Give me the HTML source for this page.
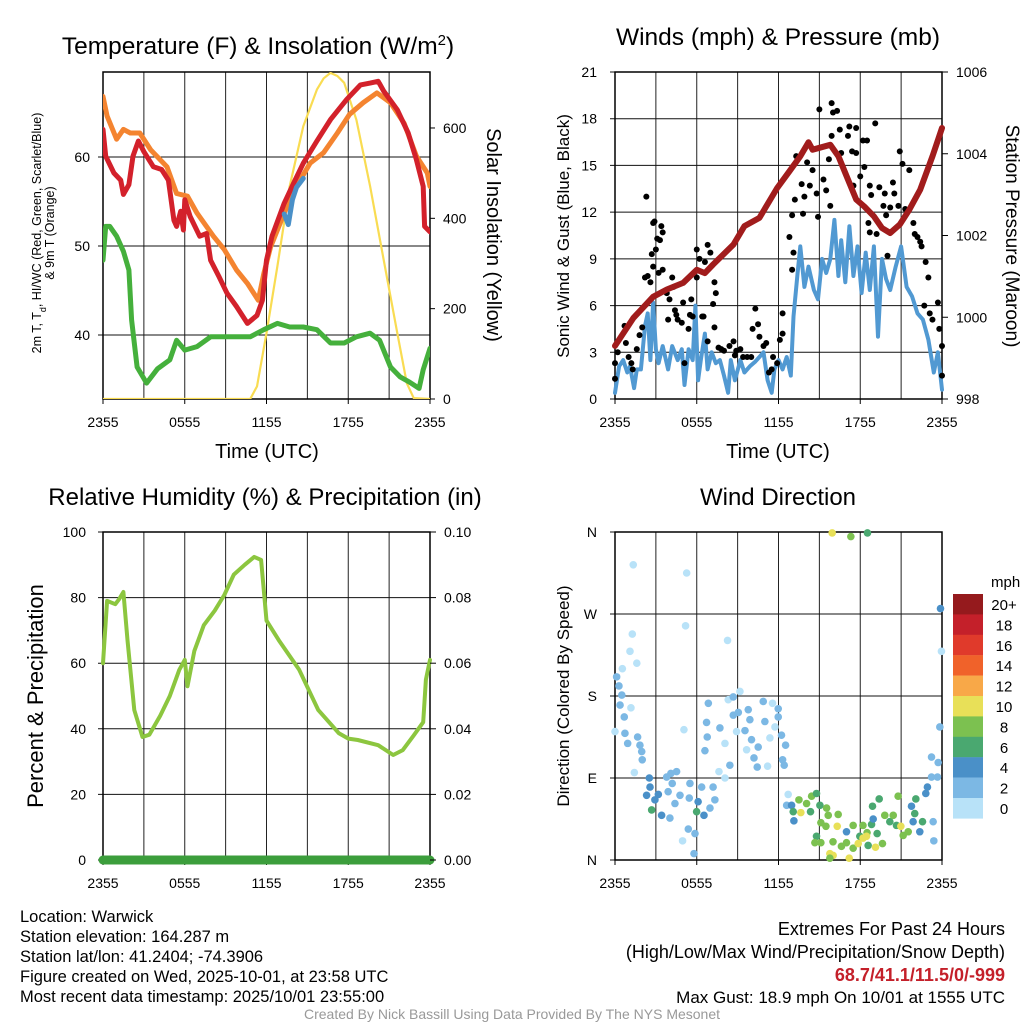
<!DOCTYPE html>
<html><head><meta charset="utf-8"><style>
html,body{margin:0;padding:0;background:#fff;}
svg{display:block;font-family:"Liberation Sans",Arial,sans-serif;}
</style></head><body>
<svg id="fig" width="1024" height="1024" viewBox="0 0 1024 1024"></svg>
<script>
// ---------------- DATA ----------------
const xTickLabels = ["2355","0555","1155","1755","2355"];
// Temperature panel (hours since 2355, deg F)
const tempHours = [0,0.2,0.8,1.3,1.5,1.9,2.2,2.6,3.0,3.7,4.3,4.8,5.2,5.4,5.7,5.9,6.0,6.4,7.1,7.6,7.9,8.5,9.1,9.8,10.6,11.3,11.7,12.0,12.4,13.3,14.0,14.7,15.7,16.7,17.9,18.9,19.6,20.2,20.6,21.6,22.4,23.0,23.5,23.6,24.0];
const tempValues = [63.1,60.1,58.2,57.4,55.8,56.9,60.1,61.8,60.6,58.9,58.6,57.4,52.9,52.2,53.9,51.8,55.2,53.3,51.1,51.4,48.4,46.6,44.7,43.2,41.3,42.2,43.9,48.4,51.1,54.8,57.1,59.3,61.8,64.2,66.5,68.1,68.3,68.5,67.4,65.3,62.7,59.7,56.7,52.2,51.6];
const temp9Hours = [0,0.3,1.0,1.5,2.0,2.7,3.5,4.7,5.4,6.2,6.9,8.1,8.9,9.8,10.6,11.4,11.8,12.3,13.3,14.2,15.2,16.2,17.2,18.1,19.1,20.1,21.1,22.1,23.0,23.8,24.0];
const temp9Values = [66.8,64.6,62.0,63.1,62.7,62.7,60.8,58.9,55.9,55.6,53.7,51.1,49.6,47.3,45.8,43.9,46.9,49.9,53.7,56.7,59.3,60.5,62.7,64.8,66.1,67.2,66.1,63.8,60.1,58.2,56.7];
const dewHours = [0,0.2,0.5,1.0,1.5,1.9,2.1,2.5,3.2,4.0,4.9,5.4,6.0,6.9,7.9,8.9,9.8,10.8,11.8,12.8,13.7,14.7,15.7,16.7,17.7,18.6,19.6,20.3,21.1,21.8,22.5,23.2,23.5,24.0];
const dewValues = [48.4,52.2,52.2,51.1,49.4,47.3,41.7,36.4,34.6,36.2,37.2,39.4,38.3,38.7,39.8,39.8,39.8,39.8,40.6,41.3,40.9,40.9,40.6,39.1,39.1,39.8,40.2,39.4,36.4,35.3,34.7,34.0,36.1,38.5];
const hiHours = [13.3,13.6,13.9,14.2,14.7];
const hiValues = [53.6,52.4,55.2,56.6,57.6];
const solarHours = [0,10.8,11.3,12.0,12.8,13.7,14.7,15.7,16.2,16.7,17.2,17.7,18.6,19.6,20.6,21.6,22.3,22.8,24];
const solarValues = [0,0,28,146,294,471,604,685,710,722,715,700,618,471,308,146,35,2,0];
const tempTicks = [40,50,60];
const solarTicks = [0,200,400,600];

// Wind panel
const windHours = [0,0.3,0.6,0.9,1.1,1.4,1.6,1.9,2.2,2.4,2.6,2.8,3.0,3.2,3.5,3.9,4.2,4.6,4.9,5.1,5.4,5.7,5.9,6.1,6.3,6.6,6.8,7.1,7.4,7.7,8.0,8.3,8.5,8.8,9.2,9.5,9.9,10.3,10.6,10.9,11.2,11.5,11.7,12.0,12.3,12.6,12.9,13.1,13.4,13.6,13.9,14.2,14.6,14.9,15.2,15.5,15.8,16.1,16.4,16.6,16.9,17.2,17.5,17.8,18.1,18.4,18.7,19.0,19.3,19.6,19.9,20.2,20.6,21.0,21.4,21.8,22.2,22.6,23.0,23.4,23.7,24.0];
const windValues = [0.4,2.1,2.5,1.7,2.1,0.7,1.9,1.9,4.7,5.5,2.5,6.2,3.2,2.3,3.4,1.9,3.4,2.5,3.2,0.9,3.2,2.5,6.0,1.2,2.5,4.2,1.9,3.0,2.3,2.5,1.5,0.4,2.5,1.2,2.5,1.7,2.1,2.4,2.7,3.0,1.2,0.4,1.9,2.5,1.9,2.7,1.5,5.3,8.1,9.8,7.2,8.5,7.0,6.4,9.0,8.1,9.0,11.5,7.9,10.2,7.5,11.1,7.9,9.8,6.8,9.4,7.0,9.8,4.0,9.0,7.7,7.0,8.5,9.8,7.2,6.6,5.5,5.1,3.8,1.7,3.0,0.6];
const gustHours = [0.0,0.0,0.2,0.7,0.8,1.0,1.2,1.3,1.6,1.8,2.0,2.3,2.2,2.4,2.6,2.7,2.8,2.9,3.0,3.1,3.3,3.4,3.5,3.5,3.2,2.8,3.8,3.9,4.0,4.2,4.3,4.4,4.5,4.6,4.9,5.0,5.1,5.4,5.5,5.6,5.7,6.0,6.0,6.2,6.4,6.5,6.6,6.8,6.8,7.0,7.3,7.4,7.3,7.2,7.6,7.8,8.0,8.4,8.7,8.8,8.9,9.2,9.4,9.7,10.0,10.1,10.3,10.5,10.6,10.9,11.1,11.3,11.5,11.6,11.9,12.1,12.3,12.3,12.8,13.0,13.1,13.2,13.0,13.3,13.7,13.8,13.9,14.1,14.3,14.5,14.8,14.9,15.0,15.3,15.5,15.8,15.7,15.9,16.0,15.9,16.3,16.5,16.6,17.1,17.2,17.4,17.7,17.5,17.7,18.0,18.2,18.3,18.5,18.7,18.8,18.6,18.7,19.1,19.2,19.4,19.7,19.8,19.9,20.0,20.2,20.4,20.5,20.8,20.9,21.1,21.3,21.6,21.9,22.0,22.2,22.4,22.5,22.8,23.0,22.7,23.1,23.3,23.7,23.8,24.0,24.0];
const gustValues = [1.3,2.3,3.0,4.7,3.6,2.7,2.3,1.9,3.2,4.1,4.6,13.0,7.8,7.9,7.5,9.3,11.3,11.4,9.6,10.3,10.2,11.1,10.7,8.3,8.1,8.5,6.8,5.1,6.4,7.8,7.2,5.7,5.4,5.1,4.9,6.2,2.3,4.5,5.4,6.4,5.3,7.8,9.6,9.0,5.3,5.3,8.8,3.7,9.9,9.4,7.5,6.8,4.6,6.1,3.3,3.2,3.1,3.4,3.7,2.8,3.1,3.2,2.7,2.7,2.7,4.5,5.8,4.8,4.0,3.4,3.6,1.7,1.9,2.7,2.3,3.8,5.5,4.2,10.4,8.3,9.4,12.8,11.8,15.6,13.8,11.9,13.0,15.2,13.7,14.7,13.2,11.7,18.6,14.1,13.4,12.4,15.4,16.9,18.4,19.0,18.5,17.3,15.8,16.9,17.5,15.9,17.4,13.7,15.8,14.3,16.6,14.9,16.6,13.7,13.1,11.3,10.7,17.7,10.6,13.6,12.4,13.2,11.8,9.2,12.3,13.9,13.2,12.4,15.9,15.1,12.2,14.7,11.3,10.6,10.4,10.1,9.8,8.8,7.8,6.0,5.5,5.1,6.2,4.5,3.4,1.5];
const presHours = [0,1.34,2.8,3.8,5.0,6.0,6.6,7.2,8.7,9.5,10.6,11.9,12.8,13.6,14.2,14.5,15.8,16.4,17.0,17.7,18.3,19.0,19.6,20.2,20.9,21.6,22.4,23.3,24.0];
const presValues = [999.3,999.98,1000.5,1000.68,1000.84,1001.16,1001.08,1001.29,1001.78,1002.23,1002.43,1003.16,1003.57,1003.94,1004.28,1004.1,1004.22,1003.94,1003.45,1002.88,1002.71,1002.47,1002.18,1002.06,1002.27,1002.63,1003.12,1003.94,1004.63];
const windTicks = [0,3,6,9,12,15,18,21];
const presTicks = [998,1000,1002,1004,1006];

// RH panel
const rhHours = [0,0.3,0.9,1.2,1.5,1.8,2.3,2.9,3.4,4.2,4.9,5.6,6.0,6.2,6.7,7.4,8.2,8.9,9.6,10.4,11.1,11.6,12.0,12.9,14.4,15.8,17.3,18.0,18.7,20.2,21.3,22.0,22.8,23.5,23.7,24.0];
const rhValues = [60,79,78,79.6,81.7,67,45.7,37.5,38.2,44,50,58,61,53,63.7,71.6,76,80.8,87,90,92.4,91.5,73,67,58,45.7,38.7,37,36.6,35,32,33.5,38,42,55,61];
const precipHours = [0,24];
const precipValues = [0,0];
const rhTicks = [0,20,40,60,80,100];
const precipTicks = ["0.00","0.02","0.04","0.06","0.08","0.10"];

// Wind direction panel
const dirHours = [1.34,5.26,5.18,1.27,1.1,1.6,0.54,0.12,0.29,0.5,0.37,1.17,0.68,0,0.73,1.66,0.93,1.83,1.96,2.0,1.42,2.52,2.57,2.32,3.18,2.69,2.93,3.42,3.79,4.1,4.52,4.2,3.9,4.4,4.03,4.77,5.5,5.45,6.1,5.99,6.53,5.38,5.87,4.96,5.8,6.36,7.2,7.33,6.97,6.6,6.77,6.72,6.85,5.06,8.07,7.7,7.63,8.07,8.43,8.31,8.26,8.68,9.17,8.68,9.05,8.92,9.54,10.02,9.66,10.2,10.44,9.78,9.9,10.51,10.88,11.0,11.56,11.98,11.98,11.74,12.22,11.37,12.52,12.3,12.42,11.2,12.71,12.6,12.96,13.08,13.13,13.5,13.64,14.06,14.43,14.79,15.04,14.35,15.53,15.65,16.38,15.11,15.48,16.31,16.99,17.48,18.2,18.83,18.5,17.97,18.46,18.2,14.79,14.67,15.11,16.0,16.62,16.99,17.48,17.85,15.77,16.01,15.77,17.19,18.58,19.12,19.63,19.24,18.95,18.9,19.39,19.8,20.17,20.42,20.78,20.66,20.98,21.15,21.52,21.76,22.08,22.0,21.88,22.37,22.57,22.93,22.81,23.23,23.35,23.4,23.67,23.23,23.72,23.84,23.96,23.89,15.94,17.31,18.53];
const dirDegrees = [324,315,257,248,229,216,210,201,191,181,170,167,157,141,139,135,128,126,119,110,96,90,80,71,72,55,66,49,91,95,97,84,75,62,46,71,84,68,64,53,49,34,29,21,7,80,80,66,57,120,135,151,172,143,128,145,97,90,104,176,241,179,185,159,162,141,142,132,121,112,102,165,154,124,174,152,172,166,157,146,137,134,126,110,104,103,72,60,60,53,43,66,52,62,70,73,60,53,57,49,50,41,37,37,31,38,38,39,30,26,26,24,26,19,19,20,15,19,13,18,7,5,2,2,16,14,18,29,45,59,67,49,42,49,70,38,37,27,31,59,67,51,42,31,42,80,73,91,42,21,91,113,107,146,229,276,359,355,359];
const dirSpeeds = [1,1,1,1,1,1,1,3,3,3,3,1,3,1,3,3,3,3,3,3,1,5,5,5,5,7,5,5,3,3,3,3,3,3,3,3,3,3,5,7,5,3,3,1,3,3,3,3,3,3,3,3,3,1,1,3,1,1,3,1,1,3,1,3,3,1,3,3,1,3,3,3,3,3,3,3,1,3,3,1,3,1,3,3,3,1,1,3,5,7,5,9,11,9,9,7,7,7,9,9,9,9,9,11,5,9,9,7,9,7,11,11,7,9,9,9,9,9,9,11,11,11,9,11,7,11,9,7,5,7,7,9,7,9,9,7,11,9,9,5,7,7,5,5,7,5,5,3,3,3,3,3,3,3,1,5,11,9,7];
const dirTickLabels = ["N","E","S","W","N"];
const speedBinLabels = ["20+","18","16","14","12","10","8","6","4","2","0"];
const speedBinColors = ["#951a1d","#c4202a","#e03a2b","#f0622a","#f8a848","#e8e058","#7cc150","#4aa870","#4a90c8","#7cb8e4","#b8e2f8"];

// ---------------- DRAW ----------------
const NS="http://www.w3.org/2000/svg";
const svg=document.getElementById('fig');
function mk(tag,attrs,parent){const e=document.createElementNS(NS,tag);for(const k in attrs)e.setAttribute(k,attrs[k]);(parent||svg).appendChild(e);return e;}
function txt(str,x,y,size,anchor,parent,extra){const t=mk('text',Object.assign({x:x,y:y,'font-size':size,'text-anchor':anchor||'middle',fill:'#000'},extra||{}),parent);t.textContent=str;return t;}
function grp(name){const g=mk('g',{});return g;}

function frame(g,L,T,R,B,hTicksY){
  for(let h=3;h<24;h+=3){const x=L+h/24*(R-L);mk('line',{x1:x,y1:T,x2:x,y2:B,stroke:'#222','stroke-width':1},g);}
  hTicksY.forEach(y=>{mk('line',{x1:L-5,y1:y,x2:R,y2:y,stroke:'#111','stroke-width':1},g);});
  for(let h=0;h<=24;h+=6){const x=L+h/24*(R-L);mk('line',{x1:x,y1:B,x2:x,y2:B+5,stroke:'#000','stroke-width':1},g);}
  const r=mk('rect',{x:L,y:T,width:R-L,height:B-T,fill:'none',stroke:'#000','stroke-width':1.5},g);
  
  const xl=grp('x-tick-labels');g.appendChild(xl);
  xTickLabels.forEach((s,i)=>{txt(s,L+i*6/24*(R-L),B+28,14,'middle',xl);});
}
function poly(g,hours,vals,xf,yf,color,w,name){
  const pts=hours.map((h,i)=>xf(h).toFixed(1)+','+yf(vals[i]).toFixed(1)).join(' ');
  const p=mk('polyline',{points:pts,fill:'none',stroke:color,'stroke-width':w,'stroke-linejoin':'round','stroke-linecap':'round'},g);
  return p;
}

// ===== Panel 1 =====
(function(){
  const L=103,T=72,R=430,B=399;
  const g=grp('temperature-panel');
  const xf=h=>L+h/24*(R-L);
  const yT=v=>157+(60-v)*8.9;
  const yS=v=>B-v*0.4517;
  frame(g,L,T,R,B,tempTicks.map(yT));
  const cp=mk('clipPath',{id:'c1'},g);mk('rect',{x:L,y:T,width:R-L,height:B-T},cp);
  const cg=mk('g',{'clip-path':'url(#c1)'},g);
  poly(cg,solarHours,solarValues,xf,yS,'#f9dc52',2.2,'solar-insolation-line');
  poly(cg,dewHours,dewValues,xf,yT,'#45b03c',5,'dewpoint-line');
  poly(cg,temp9Hours,temp9Values,xf,yT,'#f48430',5,'temp-9m-line');
  poly(cg,tempHours,tempValues,xf,yT,'#d3212b',5,'temp-2m-line');
  poly(cg,hiHours,hiValues,xf,yT,'#4a90c8',5,'heat-index-line');
  const yl=grp('y-tick-labels-left');g.appendChild(yl);
  tempTicks.forEach(v=>txt(String(v),90,yT(v)+5,14,'end',yl));
  const yr=grp('y-tick-labels-right');g.appendChild(yr);
  solarTicks.forEach(v=>{txt(String(v),443,yS(v)+5,14,'start',yr);mk('line',{x1:R,y1:yS(v),x2:R+5,y2:yS(v),stroke:'#000'},g);});
  const t=txt('Temperature (F) & Insolation (W/m',258,54,24.5,'middle',g);
  const sup=mk('tspan',{dy:-9,'font-size':15},t);sup.textContent='2';
  const cl=mk('tspan',{dy:9,'font-size':24.5},t);cl.textContent=')';
  
  txt('Time (UTC)',267,458,20,'middle',g);
  const y1=txt('',41,233,12.5,'middle',g,{transform:'rotate(-90 41 233)'});
  y1.innerHTML='2m T, T<tspan baseline-shift="sub" font-size="9">d</tspan>, HI/WC (Red, Green, Scarlet/Blue)';
  
  txt('& 9m T (Orange)',54,233,12.5,'middle',g,{transform:'rotate(-90 54 233)'});
  txt('Solar Insolation (Yellow)',487,235,20,'middle',g,{transform:'rotate(90 487 235)'});
})();

// ===== Panel 2 =====
(function(){
  const L=615,T=72,R=942,B=399;
  const g=grp('wind-pressure-panel');
  const xf=h=>L+h/24*(R-L);
  const yW=v=>B-v*(B-T)/21;
  const yP=v=>B-(v-998)*(B-T)/8;
  frame(g,L,T,R,B,windTicks.map(yW));
  const cp=mk('clipPath',{id:'c2'},g);mk('rect',{x:L-4,y:T,width:R-L+8,height:B-T},cp);
  const cg=mk('g',{'clip-path':'url(#c2)'},g);
  poly(cg,windHours,windValues,xf,yW,'#5199d2',4,'sonic-wind-line');
  const gg=grp('gust-points');cg.appendChild(gg);
  gustHours.forEach((h,i)=>{const c=mk('circle',{cx:xf(h),cy:yW(gustValues[i]),r:3,fill:'#000'},gg);
    
    });
  poly(cg,presHours,presValues,xf,yP,'#a11c1c',6,'pressure-line');
  const yl=grp('y-tick-labels-left');g.appendChild(yl);
  windTicks.forEach(v=>txt(String(v),597,yW(v)+5,14,'end',yl));
  const yr=grp('y-tick-labels-right');g.appendChild(yr);
  presTicks.forEach(v=>{txt(String(v),956,yP(v)+5,14,'start',yr);mk('line',{x1:R,y1:yP(v),x2:R+6,y2:yP(v),stroke:'#000'},g);});
  txt('Winds (mph) & Pressure (mb)',778,45,24.5,'middle',g);
  txt('Time (UTC)',778,458,20,'middle',g);
  txt('Sonic Wind & Gust (Blue, Black)',569,236,17,'middle',g,{transform:'rotate(-90 569 236)'});
  txt('Station Pressure (Maroon)',1006,236,19,'middle',g,{transform:'rotate(90 1006 236)'});
})();

// ===== Panel 3 =====
(function(){
  const L=103,T=532,R=430,B=860;
  const g=grp('humidity-panel');
  const xf=h=>L+h/24*(R-L);
  const yR=v=>B-v*(B-T)/100;
  frame(g,L,T,R,B,rhTicks.map(yR));
  poly(g,precipHours,precipValues,xf,v=>B-v*(B-T)/0.1,'#3c9e3c',9,'precipitation-line');
  poly(g,rhHours,rhValues,xf,yR,'#8cc63f',4,'relative-humidity-line');
  const yl=grp('y-tick-labels-left');g.appendChild(yl);
  rhTicks.forEach(v=>txt(String(v),86,yR(v)+5,14,'end',yl));
  const yr=grp('y-tick-labels-right');g.appendChild(yr);
  precipTicks.forEach((s,i)=>{const y=yR(i*20);txt(s,444,y+5,14,'start',yr);mk('line',{x1:R,y1:y,x2:R+6,y2:y,stroke:'#000'},g);});
  txt('Relative Humidity (%) & Precipitation (in)',265,505,24,'middle',g);
  txt('Percent & Precipitation',43,696,22,'middle',g,{transform:'rotate(-90 43 696)'});
})();

// ===== Panel 4 =====
(function(){
  const L=615,T=532,R=942,B=860;
  const g=grp('wind-direction-panel');
  const xf=h=>L+h/24*(R-L);
  const yD=v=>B-v*(B-T)/360;
  frame(g,L,T,R,B,[0,90,180,270,360].map(yD));
  const pg=grp('direction-points');g.appendChild(pg);
  dirHours.forEach((h,i)=>{
    const s=dirSpeeds[i];const bin=Math.min(10,Math.floor(s/2));
    const c=mk('circle',{cx:xf(h),cy:yD(dirDegrees[i]),r:3.8,fill:speedBinColors[10-bin]},pg);
    
    
  });
  const yl=grp('y-tick-labels-left');g.appendChild(yl);
  dirTickLabels.forEach((s,i)=>txt(s,597,yD(i*90)+5,14,'end',yl));
  txt('Wind Direction',778,505,24,'middle',g);
  txt('Direction (Colored By Speed)',569,696,17,'middle',g,{transform:'rotate(-90 569 696)'});
  const cb=grp('speed-colorbar');g.appendChild(cb);
  txt('mph',991,587,15,'start',cb);
  speedBinColors.forEach((c,i)=>{
    const r=mk('rect',{x:953,y:594+i*20.4,width:30,height:20.6,fill:c},cb);
    
    
    txt(speedBinLabels[i],1004,594+i*20.4+16,15,'middle',cb);
  });
})();

// ===== Footer text =====
(function(){
  const g=grp('station-info');
  ["Location: Warwick","Station elevation: 164.287 m","Station lat/lon: 41.2404; -74.3906","Figure created on Wed, 2025-10-01, at 23:58 UTC","Most recent data timestamp: 2025/10/01 23:55:00"].forEach((s,i)=>txt(s,20,922+i*20,16.5,'start',g));
  const e=grp('extremes-info');
  txt('Extremes For Past 24 Hours',1005,935,18,'end',e);
  txt('(High/Low/Max Wind/Precipitation/Snow Depth)',1005,958,18,'end',e);
  txt('68.7/41.1/11.5/0/-999',1005,981,18,'end',e,{fill:'#c4202a','font-weight':'bold'});
  txt('Max Gust: 18.9 mph On 10/01 at 1555 UTC',1005,1003,17,'end',e);
  txt('Created By Nick Bassill Using Data Provided By The NYS Mesonet',512,1019,14,'middle',svg,{fill:'#999'});
})();
</script>
</body></html>
